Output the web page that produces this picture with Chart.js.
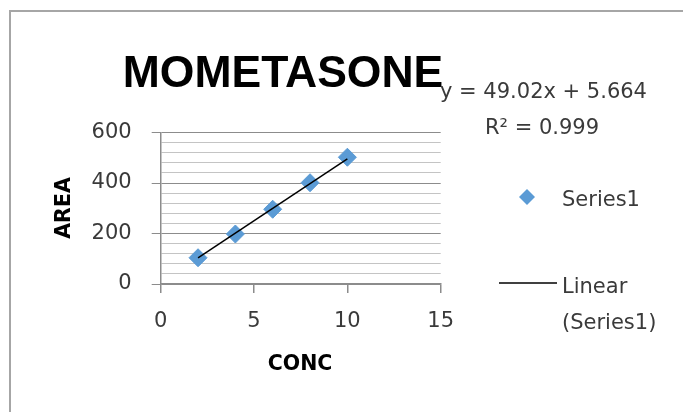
<!DOCTYPE html>
<html>
<head>
<meta charset="utf-8">
<script src="https://cdn.jsdelivr.net/npm/chart.js@4"></script>
<style>
  html, body { margin: 0; padding: 0; background: #fff; }
  #chart { display: block; }
</style>
</head>
<body>
<canvas id="chart" width="683" height="412"></canvas>
<script>
/* ================= DATA ================= */
const concValues = [2, 4, 6, 8, 10];
const areaValues = [104, 198, 296, 401, 502];

// trendline end points (y = 49.02x + 5.664)
const trendX = [2, 10];
const trendY = [103.7, 495.9];

const xTickLabels = [0, 5, 10, 15];
const yTickLabels = [0, 200, 400, 600];

const chartTitle = "MOMETASONE";
const equationText = "y = 49.02x + 5.664";
const rSquaredText = "R\u00b2 = 0.999";
const seriesName = "Series1";
const trendNameLines = ["Linear", "(Series1)"];
const xTitle = "CONC";
const yTitle = "AREA";

/* ================= STYLE ================= */
const markerBlue = "#5b9bd5";
const axisGray = "#8c8c8c";
const minorGray = "#c4c4c4";
const textDark = "#3a3a3a";
const tickFont = "DejaVu Sans";

/* ================= TEXT + FRAME PLUGIN ================= */
const decorPlugin = {
  id: "decor",
  beforeDraw(chart) {
    const ctx = chart.ctx;
    ctx.save();
    ctx.fillStyle = "#fff";
    ctx.fillRect(0, 0, chart.width, chart.height);
    // outer frame of the chart object
    ctx.strokeStyle = "#a6a6a6";
    ctx.lineWidth = 2;
    ctx.beginPath();
    ctx.moveTo(10, chart.height);
    ctx.lineTo(10, 11);
    ctx.lineTo(chart.width, 11);
    ctx.stroke();
    ctx.restore();
  },
  afterDraw(chart) {
    const ctx = chart.ctx;
    ctx.save();

    // title
    ctx.fillStyle = "#000";
    ctx.font = "bold 44.5px 'Liberation Sans'";
    ctx.textAlign = "center";
    ctx.textBaseline = "alphabetic";
    ctx.fillText(chartTitle, 283, 87);

    // trendline equation
    ctx.fillStyle = textDark;
    ctx.font = "21px '" + tickFont + "'";
    ctx.textAlign = "left";
    ctx.fillText(equationText, 440, 98);
    ctx.fillText(rSquaredText, 485, 134);

    // legend
    ctx.fillStyle = markerBlue;
    ctx.beginPath();
    ctx.moveTo(527 - 8, 197);
    ctx.lineTo(527, 197 - 8);
    ctx.lineTo(527 + 8, 197);
    ctx.lineTo(527, 197 + 8);
    ctx.closePath();
    ctx.fill();

    ctx.fillStyle = textDark;
    ctx.fillText(seriesName, 562, 206);

    ctx.strokeStyle = "#000";
    ctx.lineWidth = 1.5;
    ctx.beginPath();
    ctx.moveTo(499, 283);
    ctx.lineTo(557, 283);
    ctx.stroke();
    ctx.fillText(trendNameLines[0], 562, 293);
    ctx.fillText(trendNameLines[1], 562, 329);

    // axis titles
    ctx.fillStyle = "#000";
    ctx.font = "bold 20.5px '" + tickFont + "'";
    ctx.textAlign = "center";
    ctx.textBaseline = "middle";
    ctx.fillText(xTitle, 300, 365);

    ctx.translate(65, 208);
    ctx.rotate(-Math.PI / 2);
    ctx.fillText(yTitle, 0, 0);

    ctx.restore();
  }
};

/* ================= CHART ================= */
const scatterPoints = concValues.map((x, i) => ({ x: x, y: areaValues[i] }));
const trendPoints = trendX.map((x, i) => ({ x: x, y: trendY[i] }));

new Chart(document.getElementById("chart"), {
  type: "scatter",
  data: {
    datasets: [
      {
        label: "Linear (Series1)",
        type: "line",
        data: trendPoints,
        borderColor: "#000",
        borderWidth: 1.5,
        pointRadius: 0,
        fill: false,
        order: 0
      },
      {
        label: seriesName,
        data: scatterPoints,
        pointStyle: "rectRot",
        pointRadius: 9,
        pointBackgroundColor: markerBlue,
        pointBorderColor: markerBlue,
        pointBorderWidth: 1,
        order: 1
      }
    ]
  },
  options: {
    responsive: false,
    animation: false,
    devicePixelRatio: 1,
    layout: {
      padding: { left: 0, right: 242.3, top: 132.5, bottom: 68 }
    },
    plugins: {
      legend: { display: false },
      title: { display: false },
      tooltip: { enabled: false }
    },
    scales: {
      x: {
        type: "linear",
        min: xTickLabels[0],
        max: xTickLabels[xTickLabels.length - 1],
        afterFit: scale => { scale.height = 60; },
        afterBuildTicks: scale => {
          scale.ticks = xTickLabels.map(v => ({ value: v }));
        },
        border: { display: true, color: axisGray, width: 1.5 },
        grid: {
          drawOnChartArea: false,
          drawTicks: true,
          tickLength: 9,
          tickColor: axisGray,
          lineWidth: 1.5
        },
        ticks: {
          padding: 16,
          color: textDark,
          font: { family: tickFont, size: 21 },
          maxRotation: 0
        }
      },
      y: {
        type: "linear",
        min: yTickLabels[0],
        max: yTickLabels[yTickLabels.length - 1],
        afterFit: scale => { scale.width = 160.7; },
        border: { display: true, color: axisGray, width: 1.5 },
        grid: {
          drawTicks: true,
          tickLength: 9,
          color: c => (yTickLabels.includes(c.tick.value) ? axisGray : minorGray),
          tickColor: c => (yTickLabels.includes(c.tick.value) ? axisGray : "rgba(0,0,0,0)"),
          lineWidth: 1
        },
        ticks: {
          stepSize: 40,
          autoSkip: false,
          padding: 20,
          color: textDark,
          font: { family: tickFont, size: 21 },
          callback: v => (yTickLabels.includes(v) ? String(v) : "")
        }
      }
    }
  },
  plugins: [decorPlugin]
});
</script>
</body>
</html>
